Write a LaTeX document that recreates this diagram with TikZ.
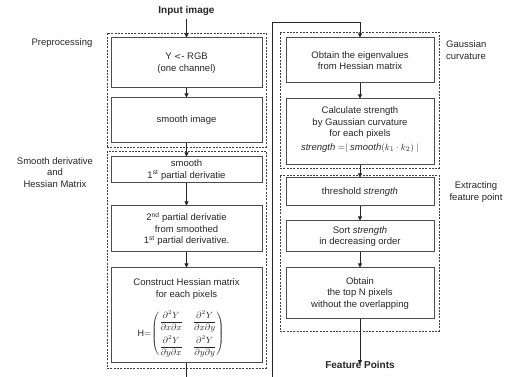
\documentclass[tikz,border=0pt]{standalone}
\usepackage{amsmath}
\usepackage{fontspec}
\setmainfont{Liberation Sans}
\usetikzlibrary{arrows.meta}
\begin{document}
\begin{tikzpicture}[x=1pt,y=-1pt,
  every node/.style={font=\fontsize{9.5}{11.5}\selectfont, text=black!85},
  pbox/.style={draw=black!70, line width=1pt, inner sep=0pt, align=center, minimum width=#1},
  pbox/.default=151pt,
  dbox/.style={draw=black!75, line width=0.6pt, dash pattern=on 2pt off 1.3pt, inner sep=0pt},
  arr/.style={draw=black!85, line width=0.8pt, -{Triangle[length=4pt,width=4pt]}},
  plain/.style={draw=black!85, line width=0.8pt},
  lbl/.style={align=center, inner sep=0pt},
  bold/.style={font=\fontsize{10}{12}\selectfont\bfseries}
]
\useasboundingbox (0,0) rectangle (515,377);
% dashed groups
\node[dbox, minimum width=159pt, minimum height=114pt] (g1) at (186.5,90) {};
\node[dbox, minimum width=159pt, minimum height=217pt] (g2) at (186.5,259.5) {};
\node[dbox, minimum width=159pt, minimum height=136pt] (g3) at (359.5,100) {};
\node[dbox, minimum width=159pt, minimum height=156pt] (g4) at (359.5,253) {};
% left column
\node[bold, inner sep=0pt] (in) at (186.5,11) {Input image};
\node[pbox, minimum height=50pt] (b1) at (186.5,63) {Y {\fontspec{DejaVu Sans}\fontsize{8.5}{10}\selectfont<}- RGB\\(one channel)};
\node[pbox, minimum height=45pt] (b2) at (186.5,120.5) {smooth image};
\node[pbox, minimum height=26pt] (b3) at (186.5,170) {smooth\\1\textsuperscript{st} partial derivatie};
\node[pbox, minimum height=46pt] (b4) at (186.5,229) {2\textsuperscript{nd} partial derivatie\\from smoothed\\1\textsuperscript{st} partial derivative.};
\node[pbox, minimum height=95pt] (b5) at (186.5,315.5) {};
\node[lbl] (b5t) at (186.5,289) {Construct Hessian matrix\\for each pixels};
\node[lbl, font=\fontsize{9}{10}\selectfont] (b5m) at (181,334) {$\mathrm{H}{=}\!\begin{pmatrix}\dfrac{\partial^2 Y}{\partial x\partial x} & \dfrac{\partial^2 Y}{\partial x\partial y}\\[9pt] \dfrac{\partial^2 Y}{\partial y\partial x} & \dfrac{\partial^2 Y}{\partial y\partial y}\end{pmatrix}$};
% right column
\node[pbox=148pt, minimum height=45pt] (b6) at (360,60.5) {Obtain the eigenvalues\\from Hessian matrix};
\node[pbox=148pt, minimum height=66pt] (b7) at (360,132) {};
\node[lbl] (b7t) at (360,123) {Calculate strength\\by Gaussian curvature\\for each pixels};
\node[lbl] (b7m) at (360,148) {$\mathit{strength} = \mid \mathit{smooth}(k_1 \cdot k_2)\mid$};
\node[pbox=148pt, minimum height=28pt] (b8) at (360,192) {threshold \textit{strength}};
\node[pbox=148pt, minimum height=31pt] (b9) at (360,236.5) {Sort \textit{strength}\\in decreasing order};
\node[pbox=148pt, minimum height=51pt] (b10) at (360,293.5) {Obtain\\the top N pixels\\without the overlapping};
\node[bold, inner sep=0pt] (out) at (360,365) {Feature Points};
% side labels
\node[lbl] (l1) at (62,43) {Preprocessing};
\node[lbl] (l2) at (55,172.5) {Smooth derivative\\and\\Hessian Matrix};
\node[lbl, align=left, anchor=west] (l3) at (446,50) {Gaussian\\curvature};
\node[lbl] (l4) at (476,192) {Extracting\\feature point};
% connectors
\coordinate (e1) at (186.5,377);
\coordinate (e2) at (272,377);
\coordinate (t1) at (272,22);
\coordinate (t2) at (360,22);
\draw[arr] (in.south) ++(0,3) -- (b1.north);
\draw[arr] (b1) -- (b2);
\draw[arr] (b2) -- (b3);
\draw[arr] (b3) -- (b4);
\draw[arr] (b4) -- (b5);
\draw[plain] (b5.south) -- (e1);
\draw[arr] (e2) -- (t1) -- (t2) -- (b6.north);
\draw[arr] (b6) -- (b7);
\draw[arr] (b7) -- (b8);
\draw[arr] (b8) -- (b9);
\draw[arr] (b9) -- (b10);
\draw[arr] (b10.south) -- ([yshift=-3pt]out.north);
\end{tikzpicture}
\end{document}
